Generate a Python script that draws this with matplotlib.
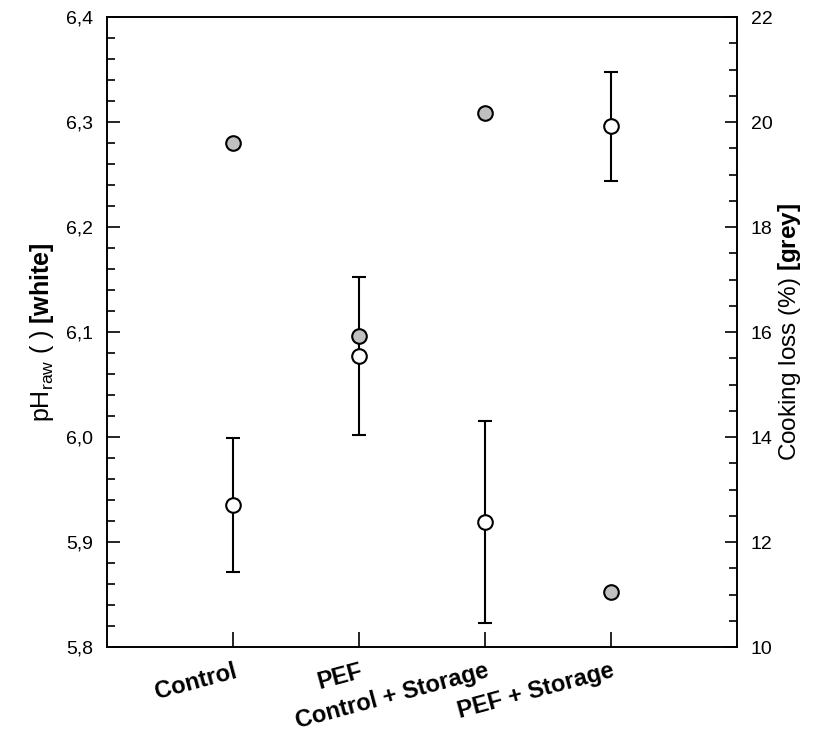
import numpy as np
import matplotlib
matplotlib.use("Agg")
import matplotlib.pyplot as plt
import matplotlib.ticker as ticker

plt.rcParams['font.family'] = ['Liberation Sans', 'DejaVu Sans']
plt.rcParams['mathtext.fontset'] = 'custom'
plt.rcParams['mathtext.rm'] = 'Liberation Sans'
plt.rcParams['mathtext.it'] = 'Liberation Sans:italic'
plt.rcParams['mathtext.bf'] = 'Liberation Sans:bold'

# Data
groups = ['Control', 'PEF', 'Control + Storage', 'PEF + Storage']
ph_raw = [5.935, 6.077, 5.919, 6.296]
ph_sd = [0.064, 0.075, 0.096, 0.052]
cooking_loss = [19.6, 15.92, 20.17, 11.05]

x = np.arange(1, len(groups) + 1)

fig = plt.figure(figsize=(8.23, 7.33), dpi=100)
ax = fig.add_axes([0.130, 0.1173, 0.7655, 0.8595])
ax2 = ax.twinx()

# pH (white, left axis)
ax.errorbar(x, ph_raw, yerr=ph_sd, fmt='o', color='black', ecolor='black',
            elinewidth=1.5, capsize=5, capthick=1.5, markersize=10.5,
            markerfacecolor='white', markeredgecolor='black', markeredgewidth=1.5)

# cooking loss (grey, right axis)
ax2.plot(x, cooking_loss, 'o', markersize=10.5, markerfacecolor='#c0c0c0',
         markeredgecolor='black', markeredgewidth=1.5)

ax.set_xlim(0, 5)
ax.set_ylim(5.8, 6.4)
ax2.set_ylim(10, 22)

comma = ticker.FuncFormatter(lambda v, p: ('%.1f' % v).replace('.', ','))
ax.yaxis.set_major_locator(ticker.MultipleLocator(0.1))
ax.yaxis.set_minor_locator(ticker.MultipleLocator(0.02))
ax.yaxis.set_major_formatter(comma)
ax2.yaxis.set_major_locator(ticker.MultipleLocator(2))
ax2.yaxis.set_minor_locator(ticker.MultipleLocator(0.5))

ax.set_xticks(x)
ax.set_xticklabels(groups, rotation=15, ha='right', va='top',
                   rotation_mode='anchor', fontweight='bold', fontsize=17)

ax.tick_params(axis='y', which='major', direction='in', length=9, width=1.2,
               labelsize=14, pad=10)
ax.tick_params(axis='y', which='minor', direction='in', length=5.5, width=1.2)
ax.tick_params(axis='x', direction='in', length=11, width=1.2, pad=9)
ax2.tick_params(axis='y', which='major', direction='in', length=9, width=1.2,
                labelsize=14, pad=10)
ax2.tick_params(axis='y', which='minor', direction='in', length=5.5, width=1.2)

for a in (ax, ax2):
    for s in a.spines.values():
        s.set_linewidth(1.2)

ax.set_ylabel(r'pH$_\mathrm{raw}$ ( ) $\mathbf{[white]}$', fontsize=18, labelpad=7)
ax2.set_ylabel(r'Cooking loss (%) $\mathbf{[grey]}$', fontsize=17.5, labelpad=2)

fig.savefig('out.png', dpi=100)
